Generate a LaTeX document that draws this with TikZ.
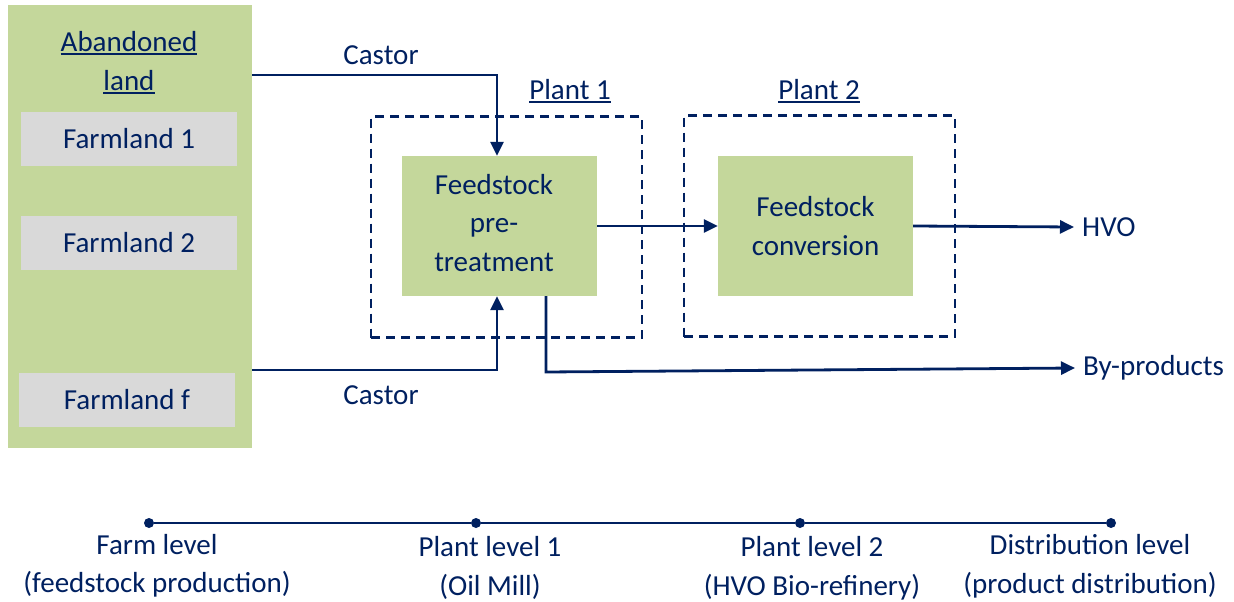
\documentclass[tikz,border=0pt]{standalone}
\usepackage{fontspec}
\setmainfont{Carlito}
\usetikzlibrary{arrows.meta}
\definecolor{navy}{RGB}{0,32,96}
\definecolor{leaf}{RGB}{196,215,155}
\definecolor{greybox}{RGB}{217,217,217}
\newcommand\myul[1]{\leavevmode\setbox0\hbox{#1}\rlap{\rule[-3.5pt]{\wd0}{2pt}}\box0}
\begin{document}
\begin{tikzpicture}[x=1pt,y=-1pt,
  lbl/.style={font=\fontsize{29}{38.5}\selectfont, text=navy, inner sep=0pt, align=center},
  farm/.style={lbl, fill=greybox, minimum width=216pt, minimum height=54pt},
  proc/.style={lbl, fill=leaf, minimum width=195pt, minimum height=140pt},
  plantbox/.style={draw=navy, line width=2.4pt, dash pattern=on 9pt off 6pt, minimum width=271pt, minimum height=221pt},
  conn/.style={draw=navy, line width=2.8pt},
  flow/.style={conn, -{Triangle[length=14pt,width=13pt]}},
  dot/.style={circle, fill=navy, inner sep=0pt, minimum size=10pt}
]
\useasboundingbox (0,0) rectangle (1234,602);
% farm area
\node[fill=leaf, minimum width=244pt, minimum height=443pt, inner sep=0pt] (land) at (130,226.5) {};
\node[lbl] (landlbl) at (129,62.5) {\myul{Abandoned}\\\myul{land}};
\node[farm] (f1) at (129,139) {Farmland 1};
\node[farm] (f2) at (129,243) {Farmland 2};
\node[farm] (ff) at (127,400) {Farmland f};
% plants
\node[plantbox] (p1) at (506.5,227) {};
\node[plantbox] (p2) at (819.5,226) {};
\node[lbl] (p1lbl) at (570,91) {\myul{Plant 1}};
\node[lbl] (p2lbl) at (819,91) {\myul{Plant 2}};
\node[proc] (pre) at (499.5,226) {};
\node[lbl] (prelbl) at (494,223) {Feedstock\\pre-\\treatment};
\node[proc] (conv) at (815.5,226) {Feedstock\\conversion};
% labels
\node[lbl] (castor1) at (381,55) {Castor};
\node[lbl] (castor2) at (381,395) {Castor};
\node[lbl, anchor=west] (hvo) at (1082,227) {HVO};
\node[lbl, anchor=west] (byp) at (1083,368) {By-products};
% connectors
\coordinate (c1) at (497,75);
\coordinate (c2) at (497,370);
\coordinate (b1) at (546,372);
\draw[flow] (land.east |- c1) -- (c1) -- (c1 |- pre.north);
\draw[flow] (land.east |- c2) -- (c2) -- (c2 |- pre.south);
\draw[flow] (pre.east) -- (conv.west);
\draw[flow] (conv.east) -- ([xshift=-8pt]hvo.west);
\draw[flow] (b1 |- pre.south) -- (b1) -- ([xshift=-8pt]byp.west);
% timeline
\node[dot] (t1) at (149,523) {};
\node[dot] (t2) at (476,523) {};
\node[dot] (t3) at (800,523) {};
\node[dot] (t4) at (1111,523) {};
\draw[conn] (t1) -- (t2) -- (t3) -- (t4);
\node[lbl] (l1) at (157,566) {Farm level\\(feedstock production)};
\node[lbl] (l2) at (490,568) {Plant level 1\\(Oil Mill)};
\node[lbl] (l3) at (812,568.5) {Plant level 2\\(HVO Bio-refinery)};
\node[lbl] (l4) at (1090,566.5) {Distribution level\\(product distribution)};
\end{tikzpicture}
\end{document}
